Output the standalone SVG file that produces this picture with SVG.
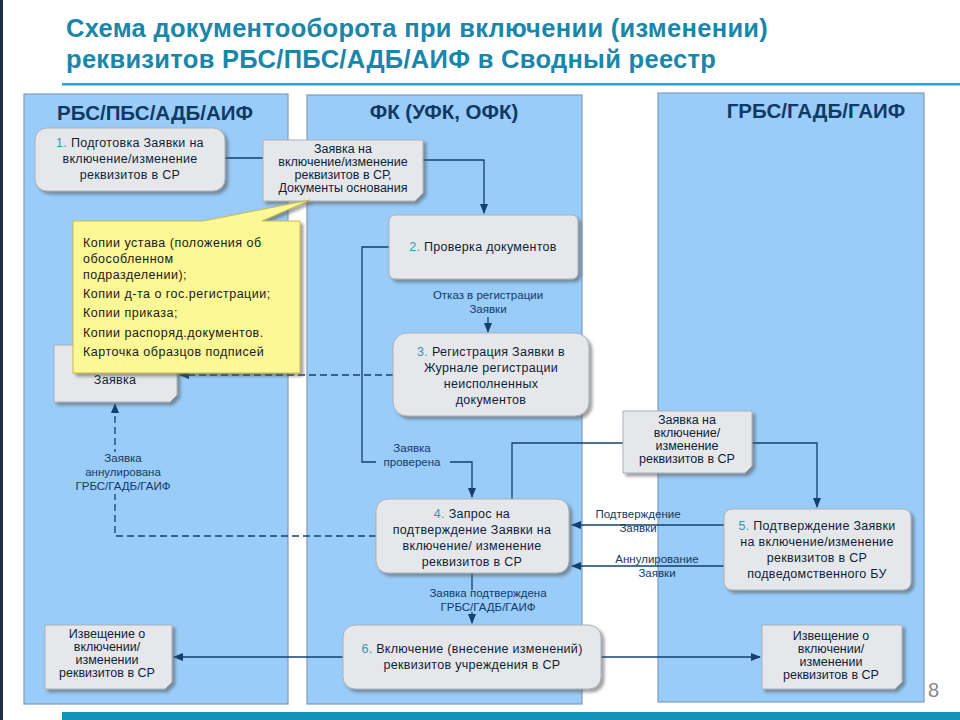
<svg xmlns="http://www.w3.org/2000/svg" width="960" height="720" viewBox="0 0 960 720">
<defs>
<style>
.lane{fill:#99ccf8;stroke:#7f9cbc;stroke-width:1.2}
.lt{font-family:"Liberation Sans",Arial,sans-serif;font-weight:bold;font-size:20.5px;fill:#0f3a66;text-anchor:middle}
.nd{fill:#e6e7ea;stroke:#a9b1bb;stroke-width:1;filter:url(#sh)}
.t{font-family:"Liberation Sans",Arial,sans-serif;font-size:12.5px;letter-spacing:0.3px;fill:#0c1f3a;text-anchor:middle}
.lb{font-family:"Liberation Sans",Arial,sans-serif;font-size:11.5px;fill:#123a6a;text-anchor:middle}
.n{fill:#2a9bb4}
.c{fill:none;stroke:#13406e;stroke-width:1.3}
.d{fill:none;stroke:#13406e;stroke-width:1.3;stroke-dasharray:7 4}
</style>
<filter id="sh" x="-10%" y="-10%" width="130%" height="140%"><feDropShadow dx="3" dy="3" stdDeviation="1.5" flood-color="#555" flood-opacity="0.55"/></filter>
<marker id="a" viewBox="0 0 10 10" refX="9" refY="5" markerWidth="8" markerHeight="8" orient="auto-start-reverse"><path d="M0,1 L10,5 L0,9 z" fill="#13406e"/></marker>
</defs>
<rect width="960" height="720" fill="#fff"/>
<rect x="0" y="0" width="3" height="720" fill="#1c2e40"/>
<g font-family="'Liberation Sans',Arial,sans-serif" font-weight="bold" font-size="25.5" fill="#1a86aa" letter-spacing="0.3">
<text x="66" y="37">Схема документооборота при включении (изменении)</text>
<text x="66" y="68">реквизитов РБС/ПБС/АДБ/АИФ в Сводный реестр</text>
</g>
<rect x="62" y="83" width="898" height="2.5" fill="#2aa5c5"/>
<rect x="62" y="712" width="898" height="8" fill="#1592b9"/>
<text x="928" y="697" font-family="'Liberation Sans',Arial,sans-serif" font-size="20" fill="#888">8</text>

<g id="lanes">
<rect class="lane" x="24" y="94" width="264" height="610"/>
<rect class="lane" x="307" y="95" width="275" height="609"/>
<rect class="lane" x="658" y="93" width="266" height="609"/>
<text class="lt" x="155" y="120">РБС/ПБС/АДБ/АИФ</text>
<text class="lt" x="444" y="119">ФК (УФК, ОФК)</text>
<text class="lt" x="816" y="118">ГРБС/ГАДБ/ГАИФ</text>
</g>

<g id="connectors">
<path class="c" d="M225,158 H263"/>
<path class="c" d="M423,160 H484 V213" marker-end="url(#a)"/>
<path class="c" d="M389,247 H362 V462 H376"/>
<path class="c" d="M450,462 H472 V497" marker-end="url(#a)"/>
<path class="c" d="M488,317 V332" marker-end="url(#a)"/>
<path class="d" d="M393,375 H180" marker-end="url(#a)"/>
<path class="d" d="M376,536 H115 V404" marker-end="url(#a)"/>
<path class="c" d="M512,499 V443 H623"/>
<path class="c" d="M752,443 H817 V507" marker-end="url(#a)"/>
<path class="c" d="M724,525 H572" marker-end="url(#a)"/>
<path class="c" d="M724,566 H572" marker-end="url(#a)"/>
<path class="c" d="M472,573 V590"/>
<path class="c" d="M472,612 V623" marker-end="url(#a)"/>
<path class="c" d="M343,657 H174" marker-end="url(#a)"/>
<path class="c" d="M601,657 H760" marker-end="url(#a)"/>
<rect x="376" y="455" width="74" height="14" fill="#99ccf8"/>
<text class="lb" x="412" y="452">Заявка</text>
<text class="lb" x="412" y="466">проверена</text>
<text class="lb" x="488" y="299">Отказ в регистрации</text>
<text class="lb" x="488" y="313">Заявки</text>
<rect x="80" y="452" width="90" height="42" fill="#99ccf8"/>
<text class="lb" x="123" y="462">Заявка</text>
<text class="lb" x="123" y="476">аннулирована</text>
<text class="lb" x="123" y="490">ГРБС/ГАДБ/ГАИФ</text>
<text class="lb" x="638" y="518">Подтверждение</text>
<text class="lb" x="638" y="532">Заявки</text>
<text class="lb" x="657" y="563">Аннулирование</text>
<text class="lb" x="657" y="577">Заявки</text>
<text class="lb" x="488" y="597">Заявка подтверждена</text>
<text class="lb" x="488" y="611">ГРБС/ГАДБ/ГАИФ</text>
</g>

<g id="n1"><rect class="nd" x="35" y="128" width="190" height="63" rx="12"/>
<text class="t" x="130" y="147"><tspan class="n">1.</tspan> Подготовка Заявки на</text>
<text class="t" x="130" y="163">включение/изменение</text>
<text class="t" x="130" y="179">реквизитов в СР</text></g>

<g id="docA"><path class="nd" d="M263,140 H423 V193 L415,201 H263 Z"/>
<text class="t" x="343" y="153" style="letter-spacing:0">Заявка на</text>
<text class="t" x="343" y="166" style="letter-spacing:0">включение/изменение</text>
<text class="t" x="343" y="179" style="letter-spacing:0">реквизитов в СР,</text>
<text class="t" x="343" y="192" style="letter-spacing:0">Документы основания</text></g>

<g id="docHidden"><path class="nd" d="M54,345 H177 V395 L170,402 H54 Z"/>
<text class="t" x="115" y="384">Заявка</text></g>

<g id="callout"><path d="M73,221 H203 L310,200 L262,221 H300 V373 H73 Z" fill="#fbf895" stroke="#c9b94a" stroke-width="1" filter="url(#sh)"/>
<g font-family="'Liberation Sans',Arial,sans-serif" font-size="12.5" letter-spacing="0.5" fill="#1a1a1a">
<text x="83" y="247">Копии устава (положения об</text>
<text x="83" y="263">обособленном</text>
<text x="83" y="279">подразделении);</text>
<text x="83" y="298">Копии д-та о гос.регистрации;</text>
<text x="83" y="317">Копии приказа;</text>
<text x="83" y="337">Копии распоряд.документов.</text>
<text x="83" y="356">Карточка образцов подписей</text></g></g>

<g id="n2"><rect class="nd" x="389" y="215" width="189" height="64" rx="6"/>
<text class="t" x="483" y="251"><tspan class="n">2.</tspan> Проверка документов</text></g>

<g id="n3"><rect class="nd" x="393" y="333" width="196" height="83" rx="14"/>
<text class="t" x="491" y="356"><tspan class="n">3.</tspan> Регистрация Заявки в</text>
<text class="t" x="491" y="372">Журнале регистрации</text>
<text class="t" x="491" y="388">неисполненных</text>
<text class="t" x="491" y="404">документов</text></g>

<g id="docB"><path class="nd" d="M623,411 H752 V466 L745,473 H623 Z"/>
<text class="t" x="687" y="424" style="letter-spacing:0">Заявка на</text>
<text class="t" x="687" y="437" style="letter-spacing:0">включение/</text>
<text class="t" x="687" y="450" style="letter-spacing:0">изменение</text>
<text class="t" x="687" y="463" style="letter-spacing:0">реквизитов в СР</text></g>

<g id="n4"><rect class="nd" x="376" y="499" width="193" height="74" rx="12"/>
<text class="t" x="472" y="518"><tspan class="n">4.</tspan> Запрос на</text>
<text class="t" x="472" y="534">подтверждение Заявки на</text>
<text class="t" x="472" y="550">включение/ изменение</text>
<text class="t" x="472" y="566">реквизитов в СР</text></g>

<g id="n5"><rect class="nd" x="724" y="509" width="187" height="81" rx="8"/>
<text class="t" x="817" y="530"><tspan class="n">5.</tspan> Подтверждение Заявки</text>
<text class="t" x="817" y="546">на включение/изменение</text>
<text class="t" x="817" y="562">реквизитов в СР</text>
<text class="t" x="817" y="578">подведомственного БУ</text></g>

<g id="n6"><rect class="nd" x="343" y="625" width="258" height="64" rx="12"/>
<text class="t" x="472" y="653"><tspan class="n">6.</tspan> Включение (внесение изменений)</text>
<text class="t" x="472" y="669">реквизитов учреждения в СР</text></g>

<g id="docC"><path class="nd" d="M45,625 H172 V682 L165,689 H45 Z"/>
<text class="t" x="107" y="638" style="letter-spacing:0">Извещение о</text>
<text class="t" x="107" y="651" style="letter-spacing:0">включении/</text>
<text class="t" x="107" y="664" style="letter-spacing:0">изменении</text>
<text class="t" x="107" y="677" style="letter-spacing:0">реквизитов в СР</text></g>

<g id="docD"><path class="nd" d="M762,625 H902 V682 L895,689 H762 Z"/>
<text class="t" x="831" y="640" style="letter-spacing:0">Извещение о</text>
<text class="t" x="831" y="653" style="letter-spacing:0">включении/</text>
<text class="t" x="831" y="666" style="letter-spacing:0">изменении</text>
<text class="t" x="831" y="679" style="letter-spacing:0">реквизитов в СР</text></g>
</svg>
